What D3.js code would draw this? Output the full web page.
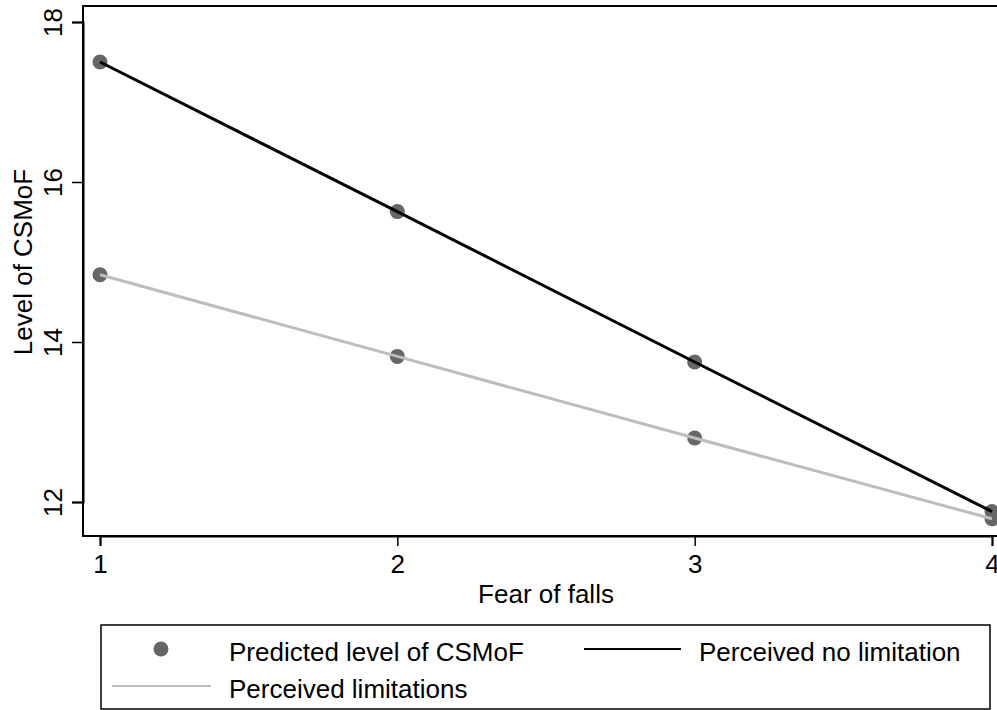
<!DOCTYPE html>
<html>
<head>
<meta charset="utf-8">
<script src="https://cdn.jsdelivr.net/npm/d3@7"></script>
<style>
  body { margin: 0; background: #fff; }
  svg { display: block; font-family: "Liberation Sans", Arial, Helvetica, sans-serif; }
</style>
</head>
<body>
<div class="main"></div>
<script>
// Fear of falls levels on x
const fearLevels = [1, 2, 3, 4]
// predicted CSMoF per group
const noLimitation = [17.5, 15.63, 13.75, 11.88]
const limitations = [14.84, 13.82, 12.8, 11.79]
const yTicks = [12, 14, 16, 18]

const width = 997
const height = 710
const margin = ({top: 6, right: -12, bottom: 174, left: 83})
const fontSize = 26

const svg = d3.select('.main')
  .append('svg')
  .attr('width', width)
  .attr('height', height)

const xScale = d3.scaleLinear()
  .domain([1, 4])
  .range([100, 992])

const yScale = d3.scaleLinear()
  .domain([12, 18])
  .range([502, 22])

const plotBottom = height - margin.bottom
const plotRight = width - margin.right

// plot region outline (top + right run off the picture)
svg.append('rect')
  .attr('x', margin.left)
  .attr('y', margin.top)
  .attr('width', plotRight - margin.left)
  .attr('height', plotBottom - margin.top)
  .attr('fill', 'none')
  .attr('stroke', '#000')
  .attr('stroke-width', 2)

// y axis
const yAxis = svg.append('g')
  .attr('transform', `translate(${margin.left}, 0)`)
  .call(d3.axisLeft(yScale).tickValues(yTicks).tickSize(11).tickFormat(d3.format('d')))
yAxis.select('.domain').attr('stroke-width', 2)
yAxis.selectAll('.tick line').attr('stroke-width', 1.5)
yAxis.selectAll('.tick text')
  .attr('font-size', fontSize)
  .attr('font-family', null)
  .attr('fill', '#000')
  .attr('x', null)
  .attr('dy', null)
  .attr('text-anchor', 'middle')
  .attr('transform', 'translate(-21, 0) rotate(-90)')

// x axis
const xAxis = svg.append('g')
  .attr('transform', `translate(0, ${plotBottom})`)
  .call(d3.axisBottom(xScale).tickValues(fearLevels).tickSize(10).tickFormat(d3.format('d')))
xAxis.select('.domain').attr('stroke-width', 2)
xAxis.selectAll('.tick line').attr('stroke-width', 1.5)
xAxis.selectAll('.tick text')
  .attr('font-size', fontSize)
  .attr('font-family', null)
  .attr('fill', '#000')
  .attr('y', 37)
  .attr('dy', null)

// axis titles
svg.append('text')
  .text('Fear of falls')
  .attr('x', (margin.left + plotRight) / 2)
  .attr('y', 603)
  .attr('text-anchor', 'middle')
  .attr('font-size', fontSize)

svg.append('text')
  .text('Level of CSMoF')
  .attr('transform', `translate(32, ${(yScale(12) + yScale(18)) / 2}) rotate(-90)`)
  .attr('text-anchor', 'middle')
  .attr('font-size', fontSize)

// lines
const line = d3.line()
  .x((d, i) => xScale(fearLevels[i]))
  .y(d => yScale(d))

const series = [
  {name: 'Perceived limitations', values: limitations, color: '#bdbdbd'},
  {name: 'Perceived no limitation', values: noLimitation, color: '#000'}
]

// markers first, lines over them
series.forEach(s => {
  svg.append('g')
    .selectAll('circle')
    .data(s.values)
    .join('circle')
      .attr('cx', (d, i) => xScale(fearLevels[i]))
      .attr('cy', d => yScale(d))
      .attr('r', 7.5)
      .attr('fill', '#666')
})

series.forEach(s => {
  svg.append('path')
    .datum(s.values)
    .attr('d', line)
    .attr('fill', 'none')
    .attr('stroke', s.color)
    .attr('stroke-width', 3)
})

// legend
const legend = svg.append('g').attr('class', 'legend')

legend.append('rect')
  .attr('x', 101)
  .attr('y', 625)
  .attr('width', 889)
  .attr('height', 84)
  .attr('fill', 'none')
  .attr('stroke', '#000')
  .attr('stroke-width', 1.5)

legend.append('circle')
  .attr('cx', 161)
  .attr('cy', 649)
  .attr('r', 7.5)
  .attr('fill', '#666')

legend.append('text')
  .text('Predicted level of CSMoF')
  .attr('x', 229)
  .attr('y', 661)
  .attr('font-size', fontSize)

legend.append('line')
  .attr('x1', 584).attr('x2', 681)
  .attr('y1', 649).attr('y2', 649)
  .attr('stroke', '#000')
  .attr('stroke-width', 2)

legend.append('text')
  .text('Perceived no limitation')
  .attr('x', 699)
  .attr('y', 661)
  .attr('font-size', fontSize)

legend.append('line')
  .attr('x1', 112).attr('x2', 211)
  .attr('y1', 686).attr('y2', 686)
  .attr('stroke', '#bdbdbd')
  .attr('stroke-width', 2)

legend.append('text')
  .text('Perceived limitations')
  .attr('x', 229)
  .attr('y', 698)
  .attr('font-size', fontSize)
</script>
</body>
</html>
